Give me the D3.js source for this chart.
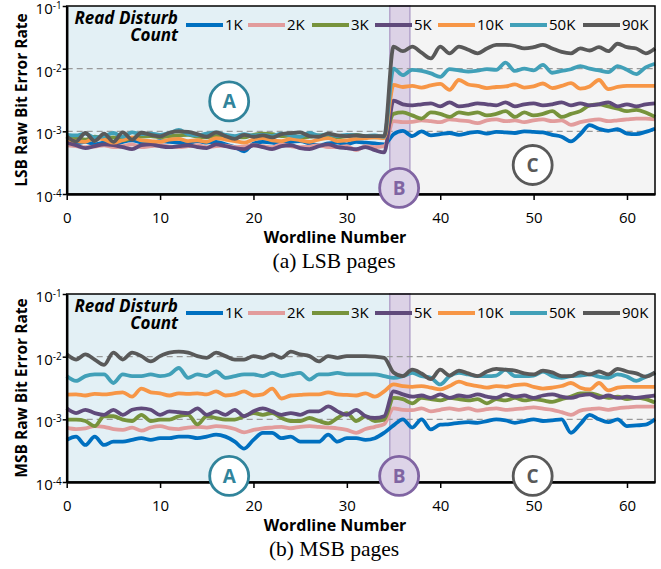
<!DOCTYPE html>
<html>
<head>
<meta charset="utf-8">
<script src="https://cdn.jsdelivr.net/npm/d3@7/dist/d3.min.js"></script>
<style>
  body { margin: 0; background: #fff; }
  text { font-family: "Open Sans", Lato, sans-serif; }
</style>
</head>
<body>
<div class="chart"></div>
<script>
// wordline index on the x axis
const wordlines = d3.range(64);
const counts = ["1K", "2K", "3K", "5K", "10K", "50K", "90K"];
const colors = ["#0070c0", "#e29c9c", "#77933c", "#604a7b", "#f79646", "#41a0b8", "#595959"];
const xTicks = [0, 10, 20, 30, 40, 50, 60];
const yTicks = [1e-4, 1e-3, 1e-2, 1e-1];
const regionB = [34.6, 36.75];

// LSB pages
const lsb1K = [6.8e-4,6.4e-4,6.8e-4,6.2e-4,6.6e-4,6.0e-4,6.8e-4,7.2e-4,6.6e-4,6.4e-4,7.0e-4,6.8e-4,6.6e-4,6.4e-4,7.0e-4,6.6e-4,6.8e-4,6.2e-4,5.6e-4,4.8e-4,6.4e-4,6.8e-4,6.6e-4,6.2e-4,6.8e-4,7.0e-4,6.4e-4,6.0e-4,6.4e-4,6.6e-4,6.2e-4,6.8e-4,6.6e-4,6.4e-4,6.2e-4,
  9.0e-4,1.02e-3,8.4e-4,1.0e-3,8.6e-4,9.0e-4,9.4e-4,8.8e-4,9.4e-4,9.8e-4,9.2e-4,9.8e-4,9.6e-4,9.4e-4,1.0e-3,9.8e-4,9.6e-4,8.8e-4,8.2e-4,6.9e-4,9.0e-4,1.26e-3,1.1e-3,1.02e-3,1.08e-3,9.2e-4,9.0e-4,9.8e-4,1.1e-3];
const lsb2K = [6.0e-4,5.8e-4,5.6e-4,5.7e-4,6.0e-4,5.6e-4,5.8e-4,6.2e-4,5.6e-4,5.8e-4,6.0e-4,5.7e-4,5.6e-4,5.8e-4,6.0e-4,5.6e-4,5.8e-4,5.9e-4,5.6e-4,5.7e-4,6.0e-4,5.8e-4,5.6e-4,6.2e-4,5.8e-4,5.6e-4,5.7e-4,6.0e-4,5.6e-4,5.6e-4,5.8e-4,5.0e-4,5.8e-4,5.6e-4,5.8e-4,
  1.45e-3,1.4e-3,1.42e-3,1.5e-3,1.45e-3,1.4e-3,1.55e-3,1.5e-3,1.45e-3,1.35e-3,1.5e-3,1.55e-3,1.45e-3,1.5e-3,1.4e-3,1.5e-3,1.55e-3,1.45e-3,1.5e-3,1.27e-3,1.4e-3,1.5e-3,1.55e-3,1.45e-3,1.5e-3,1.55e-3,1.6e-3,1.6e-3,1.55e-3];
const lsb3K = [7.8e-4,8.0e-4,7.4e-4,8.2e-4,7.6e-4,8.0e-4,7.2e-4,7.8e-4,8.2e-4,8.4e-4,8.0e-4,8.4e-4,8.6e-4,8.8e-4,8.2e-4,8.0e-4,8.6e-4,8.4e-4,8.2e-4,8.0e-4,8.8e-4,9.2e-4,9.0e-4,8.4e-4,8.6e-4,8.0e-4,8.2e-4,8.6e-4,8.4e-4,8.0e-4,8.4e-4,8.8e-4,8.2e-4,8.0e-4,8.2e-4,
  1.9e-3,2.0e-3,1.8e-3,1.6e-3,2.0e-3,1.9e-3,1.7e-3,2.0e-3,1.9e-3,2.0e-3,1.8e-3,1.9e-3,2.1e-3,1.7e-3,2.0e-3,1.8e-3,1.9e-3,2.1e-3,1.7e-3,1.9e-3,2.1e-3,2.6e-3,2.7e-3,2.5e-3,2.3e-3,2.1e-3,2.2e-3,2.0e-3,1.7e-3];
const lsb5K = [6.6e-4,6.0e-4,5.4e-4,5.8e-4,6.2e-4,6.0e-4,5.6e-4,5.2e-4,6.0e-4,6.2e-4,5.8e-4,5.6e-4,5.8e-4,6.0e-4,5.6e-4,5.4e-4,6.2e-4,5.8e-4,5.4e-4,5.2e-4,6.0e-4,5.6e-4,5.2e-4,5.8e-4,6.0e-4,5.4e-4,5.2e-4,5.8e-4,6.2e-4,5.6e-4,5.4e-4,5.2e-4,5.6e-4,5.0e-4,4.6e-4,
  3.1e-3,2.7e-3,2.6e-3,2.7e-3,2.8e-3,2.5e-3,2.9e-3,2.5e-3,2.6e-3,2.8e-3,2.7e-3,2.6e-3,2.9e-3,2.5e-3,2.7e-3,2.8e-3,2.6e-3,2.7e-3,2.9e-3,2.6e-3,2.8e-3,2.6e-3,2.7e-3,2.9e-3,2.5e-3,2.7e-3,2.5e-3,2.7e-3,2.8e-3];
const lsb10K = [7.6e-4,7.0e-4,6.8e-4,7.8e-4,7.4e-4,6.6e-4,7.2e-4,8.0e-4,7.2e-4,7.0e-4,6.8e-4,7.4e-4,7.6e-4,7.0e-4,7.2e-4,6.8e-4,7.8e-4,7.4e-4,7.0e-4,6.6e-4,7.4e-4,7.8e-4,7.2e-4,7.0e-4,7.6e-4,7.2e-4,6.8e-4,7.4e-4,7.8e-4,7.0e-4,7.2e-4,7.6e-4,7.8e-4,8.0e-4,7.8e-4,
  5.5e-3,5.1e-3,5.3e-3,5.0e-3,5.4e-3,5.7e-3,4.6e-3,6.6e-3,5.6e-3,5.3e-3,4.9e-3,5.1e-3,5.2e-3,5.6e-3,5.0e-3,5.2e-3,5.8e-3,4.9e-3,5.3e-3,5.9e-3,4.8e-3,5.2e-3,6.6e-3,4.7e-3,5.1e-3,5.3e-3,5.3e-3,5.3e-3,5.3e-3];
const lsb50K = [8.8e-4,8.6e-4,9.2e-4,8.0e-4,8.4e-4,9.4e-4,8.2e-4,9.6e-4,9.0e-4,9.2e-4,8.8e-4,9.4e-4,1.05e-3,9.0e-4,8.6e-4,9.2e-4,9.6e-4,8.8e-4,8.4e-4,9.0e-4,8.6e-4,8.8e-4,8.4e-4,9.2e-4,8.6e-4,8.2e-4,9.4e-4,8.6e-4,9.0e-4,8.4e-4,8.8e-4,8.6e-4,8.4e-4,8.6e-4,8.2e-4,
  1.0e-2,7.9e-3,9.6e-3,9.2e-3,8.4e-3,7.4e-3,9.8e-3,9.4e-3,9.0e-3,9.3e-3,9.8e-3,9.6e-3,1.25e-2,9.2e-3,1.0e-2,9.4e-3,1.15e-2,8.6e-3,9.2e-3,9.8e-3,1.1e-2,1.0e-2,9.4e-3,8.8e-3,1.1e-2,9.6e-3,8.2e-3,1.05e-2,1.2e-2];
const lsb90K = [8.3e-4,6.9e-4,9.4e-4,7.0e-4,9.2e-4,6.8e-4,9.6e-4,7.4e-4,9.5e-4,8.8e-4,8.3e-4,9.5e-4,1.0e-3,9.8e-4,9.0e-4,8.2e-4,9.6e-4,8.4e-4,7.6e-4,8.8e-4,8.2e-4,8.6e-4,8.0e-4,9.0e-4,9.4e-4,9.6e-4,8.4e-4,8.2e-4,9.2e-4,8.6e-4,8.4e-4,8.6e-4,8.4e-4,8.4e-4,8.4e-4,
  2.24e-2,1.9e-2,2.24e-2,1.8e-2,1.46e-2,2.24e-2,1.76e-2,2.24e-2,2.0e-2,1.76e-2,2.1e-2,2.4e-2,2.4e-2,2.3e-2,2.1e-2,2.2e-2,2.4e-2,2.1e-2,1.85e-2,1.76e-2,2.1e-2,1.95e-2,2.2e-2,1.9e-2,2.5e-2,2.2e-2,2.1e-2,1.76e-2,2.1e-2];

// MSB pages
const msb1K = [4.7e-4,5.3e-4,3.9e-4,5.3e-4,3.9e-4,4.4e-4,4.4e-4,4.7e-4,5.0e-4,4.7e-4,5.0e-4,5.0e-4,5.3e-4,5.3e-4,5.0e-4,5.3e-4,5.7e-4,5.3e-4,4.4e-4,3.4e-4,4.7e-4,6.1e-4,6.1e-4,5.0e-4,5.3e-4,4.4e-4,4.4e-4,4.4e-4,5.7e-4,4.4e-4,5.0e-4,5.0e-4,4.7e-4,5.0e-4,6.1e-4,
  8.0e-4,1.0e-3,7.4e-4,1.0e-3,6.9e-4,8.2e-4,8.4e-4,8.8e-4,9.0e-4,8.8e-4,9.4e-4,1.0e-3,9.6e-4,8.8e-4,9.4e-4,1.0e-3,9.4e-4,9.6e-4,1.0e-3,6.1e-4,8.4e-4,1.18e-3,1.0e-3,9.0e-4,1.0e-3,7.8e-4,8.0e-4,8.2e-4,1.0e-3];
const msb2K = [7.4e-4,7.0e-4,7.2e-4,7.8e-4,7.6e-4,7.0e-4,6.8e-4,7.4e-4,6.6e-4,7.4e-4,7.8e-4,7.2e-4,7.0e-4,7.4e-4,7.6e-4,7.4e-4,7.8e-4,7.6e-4,7.0e-4,6.2e-4,6.8e-4,7.2e-4,7.4e-4,7.6e-4,7.2e-4,7.6e-4,7.8e-4,7.6e-4,7.4e-4,7.2e-4,6.8e-4,6.1e-4,7.0e-4,7.6e-4,8.4e-4,
  1.5e-3,1.42e-3,1.4e-3,1.5e-3,1.34e-3,1.42e-3,1.5e-3,1.42e-3,1.5e-3,1.38e-3,1.45e-3,1.5e-3,1.42e-3,1.45e-3,1.5e-3,1.55e-3,1.48e-3,1.42e-3,1.3e-3,1.18e-3,1.38e-3,1.45e-3,1.5e-3,1.42e-3,1.5e-3,1.55e-3,1.6e-3,1.6e-3,1.6e-3];
const msb3K = [9.9e-4,9.9e-4,9.4e-4,7.8e-4,1.12e-3,1.12e-3,9.9e-4,9.4e-4,1.18e-3,9.4e-4,9.9e-4,9.9e-4,1.12e-3,1.18e-3,8.3e-4,1.12e-3,1.05e-3,9.9e-4,9.9e-4,1.12e-3,1.26e-3,1.18e-3,1.26e-3,1.05e-3,9.4e-4,9.4e-4,1.05e-3,9.4e-4,8.6e-4,1.05e-3,1.26e-3,9.4e-4,1.12e-3,9.4e-4,9.9e-4,
  2.2e-3,2.1e-3,1.8e-3,2.2e-3,2.1e-3,2.0e-3,2.2e-3,2.1e-3,2.0e-3,2.1e-3,1.8e-3,2.1e-3,2.0e-3,2.2e-3,2.0e-3,2.1e-3,2.0e-3,1.9e-3,2.1e-3,2.3e-3,2.6e-3,2.6e-3,2.4e-3,2.2e-3,2.3e-3,2.1e-3,2.2e-3,2.1e-3,1.85e-3];
const msb5K = [1.5e-3,1.26e-3,1.42e-3,1.26e-3,1.18e-3,1.42e-3,1.18e-3,1.42e-3,1.5e-3,1.42e-3,1.18e-3,1.34e-3,1.3e-3,1.26e-3,1.5e-3,1.18e-3,1.34e-3,1.18e-3,1.42e-3,1.12e-3,1.34e-3,1.5e-3,1.34e-3,1.18e-3,1.26e-3,1.18e-3,1.34e-3,1.34e-3,1.61e-3,1.34e-3,1.18e-3,1.42e-3,1.12e-3,1.05e-3,1.12e-3,
  2.8e-3,2.5e-3,2.3e-3,2.4e-3,2.2e-3,2.5e-3,2.2e-3,2.4e-3,2.3e-3,2.5e-3,2.3e-3,2.2e-3,2.5e-3,2.3e-3,2.4e-3,2.2e-3,2.4e-3,2.5e-3,2.3e-3,2.2e-3,2.4e-3,2.5e-3,2.2e-3,2.4e-3,2.2e-3,2.3e-3,2.2e-3,2.3e-3,2.4e-3];
const msb10K = [2.48e-3,2.5e-3,2.4e-3,2.55e-3,2.5e-3,2.6e-3,2.7e-3,2.3e-3,3.1e-3,2.7e-3,2.6e-3,2.4e-3,2.6e-3,2.55e-3,2.6e-3,2.5e-3,2.8e-3,2.4e-3,2.5e-3,2.8e-3,2.4e-3,2.5e-3,3.1e-3,2.15e-3,2.4e-3,2.45e-3,2.5e-3,2.5e-3,2.7e-3,2.5e-3,2.45e-3,2.4e-3,2.6e-3,2.3e-3,2.8e-3,
  3.6e-3,3.4e-3,3.3e-3,3.4e-3,3.2e-3,3.0e-3,3.4e-3,4.0e-3,3.6e-3,3.4e-3,3.2e-3,3.4e-3,3.3e-3,3.5e-3,3.6e-3,3.3e-3,3.1e-3,3.2e-3,3.4e-3,3.8e-3,3.2e-3,3.0e-3,3.8e-3,2.9e-3,3.2e-3,3.3e-3,3.3e-3,3.3e-3,3.3e-3];
const msb50K = [4.9e-3,4.1e-3,4.9e-3,5.2e-3,5.2e-3,3.8e-3,5.2e-3,4.9e-3,4.9e-3,5.2e-3,4.9e-3,5.2e-3,6.6e-3,4.6e-3,5.2e-3,4.9e-3,5.8e-3,4.6e-3,4.9e-3,5.2e-3,5.2e-3,4.9e-3,5.5e-3,4.9e-3,5.2e-3,5.5e-3,4.3e-3,5.2e-3,5.2e-3,5.5e-3,5.2e-3,5.2e-3,5.2e-3,5.2e-3,4.9e-3,
  4.6e-3,4.9e-3,5.5e-3,4.9e-3,4.6e-3,3.6e-3,4.9e-3,5.5e-3,5.2e-3,4.9e-3,4.9e-3,5.0e-3,6.2e-3,4.9e-3,4.9e-3,5.0e-3,5.8e-3,4.9e-3,4.6e-3,4.9e-3,5.0e-3,5.2e-3,4.8e-3,4.6e-3,5.2e-3,4.8e-3,4.1e-3,4.8e-3,5.5e-3];
const msb90K = [1.09e-2,9.0e-3,1.09e-2,9.0e-3,7.4e-3,1.16e-2,9.0e-3,1.16e-2,1.02e-2,8.4e-3,1.02e-2,1.16e-2,1.2e-2,1.16e-2,1.02e-2,9.6e-3,1.16e-2,1.02e-2,9.0e-3,9.0e-3,1.02e-2,9.6e-3,1.09e-2,9.6e-3,1.2e-2,1.09e-2,1.02e-2,8.4e-3,1.02e-2,9.6e-3,1.02e-2,1.02e-2,1.02e-2,1.0e-2,9.6e-3,
  5.6e-3,4.9e-3,6.2e-3,5.4e-3,4.4e-3,6.2e-3,5.0e-3,6.0e-3,5.4e-3,4.9e-3,5.8e-3,6.4e-3,6.2e-3,6.0e-3,5.4e-3,5.2e-3,6.0e-3,5.6e-3,4.9e-3,4.9e-3,5.6e-3,5.2e-3,5.8e-3,5.2e-3,6.4e-3,5.8e-3,5.4e-3,4.8e-3,5.6e-3];

const lsbSeries = [lsb1K, lsb2K, lsb3K, lsb5K, lsb10K, lsb50K, lsb90K];
const msbSeries = [msb1K, msb2K, msb3K, msb5K, msb10K, msb50K, msb90K];

const width = 661, height = 569;
const plotH = 188;
const svg = d3.select(".chart").append("svg")
    .attr("width", width)
    .attr("height", height);

const x = d3.scaleLinear().domain([0, 63]).range([66.7, 655]);

// legend line starts
const legendX = [186, 248, 312, 375, 438, 510, 583];

function drawPanel(top, series, yTitle, caption, marks) {
    const y = d3.scaleLog().domain([1e-4, 1e-1]).range([top + plotH, top]);
    const g = svg.append("g");

    // shaded regions A, B, C
    g.append("rect")
        .attr("x", x(0)).attr("y", top)
        .attr("width", x(regionB[0]) - x(0)).attr("height", plotH)
        .attr("fill", "#e3f0f5");
    g.append("rect")
        .attr("x", x(regionB[1])).attr("y", top)
        .attr("width", x(63) - x(regionB[1])).attr("height", plotH)
        .attr("fill", "#f4f4f4");
    g.append("rect")
        .attr("x", x(regionB[0])).attr("y", top)
        .attr("width", x(regionB[1]) - x(regionB[0])).attr("height", plotH)
        .attr("fill", "#dcd2e6")
        .attr("stroke", "#b4a4cb")
        .attr("stroke-width", 1.5);

    // dashed grid
    g.selectAll(".grid")
        .data([1e-2, 1e-3])
        .enter()
        .append("line")
        .attr("x1", x(0)).attr("x2", x(63))
        .attr("y1", d => y(d)).attr("y2", d => y(d))
        .attr("stroke", "#9a9a9a")
        .attr("stroke-width", 1.3)
        .attr("stroke-dasharray", "6,4");

    const line = d3.line()
        .x((d, i) => x(wordlines[i]))
        .y(d => y(d))
        .curve(d3.curveMonotoneX);

    g.selectAll(".series")
        .data(series)
        .enter()
        .append("path")
        .attr("d", line)
        .attr("fill", "none")
        .attr("stroke", (d, i) => colors[i])
        .attr("stroke-width", 3.8)
        .attr("stroke-linejoin", "round");

    // frame
    g.append("rect")
        .attr("x", x(0)).attr("y", top)
        .attr("width", x(63) - x(0)).attr("height", plotH)
        .attr("fill", "none")
        .attr("stroke", "#000")
        .attr("stroke-width", 1.5);

    const xAxis = d3.axisBottom(x).tickValues(xTicks).tickSize(6).tickSizeOuter(0).tickPadding(12);
    const gx = g.append("g")
        .attr("transform", `translate(0, ${top + plotH})`)
        .call(xAxis)
        .attr("font-size", 15)
        .attr("font-family", "'Open Sans', sans-serif");
    gx.select(".domain").attr("stroke-width", 2.5);
    gx.selectAll(".tick line").attr("stroke-width", 1.5);
    gx.selectAll(".tick text").attr("fill", "#000");

    const yAxis = d3.axisLeft(y).tickValues(yTicks).tickSize(4).tickSizeOuter(0).tickPadding(1)
        .tickFormat(() => "10");
    const gy = g.append("g")
        .attr("transform", `translate(${x(0)}, 0)`)
        .call(yAxis)
        .attr("font-size", 15)
        .attr("font-family", "'Open Sans', sans-serif");
    gy.select(".domain").attr("stroke-width", 2.5);
    gy.selectAll(".tick line").attr("stroke-width", 1.5);
    gy.selectAll(".tick text")
        .attr("fill", "#000")
        .attr("dy", "0.5em")
        .append("tspan")
        .attr("dy", "-0.5em")
        .attr("font-size", 10)
        .text(d => Math.round(Math.log10(d)));

    // axis titles
    g.append("text")
        .attr("x", 335).attr("y", top + 237)
        .attr("text-anchor", "middle")
        .attr("font-weight", "bold")
        .attr("font-size", 16)
        .text("Wordline Number");
    g.append("text")
        .attr("transform", `translate(27, ${top + 94}) rotate(-90)`)
        .attr("text-anchor", "middle")
        .attr("font-weight", "bold")
        .attr("font-size", 15.5)
        .text(yTitle);
    g.append("text")
        .attr("x", 334).attr("y", top + 262)
        .attr("text-anchor", "middle")
        .attr("font-size", 21.5)
        .style("font-family", "'Liberation Serif', serif")
        .text(caption);

    // legend title on two lines
    const lt = g.append("text")
        .attr("text-anchor", "end")
        .attr("font-weight", "bold").attr("font-style", "italic")
        .attr("font-size", 17);
    lt.append("tspan").attr("x", 178).attr("y", top + 18).text("Read Disturb");
    lt.append("tspan").attr("x", 178).attr("y", top + 34.5).text("Count");

    const items = g.selectAll(".legend")
        .data(counts)
        .enter()
        .append("g")
        .attr("transform", (d, i) => `translate(${legendX[i]}, ${top + 19})`);
    items.append("line")
        .attr("x1", 0).attr("x2", 37)
        .attr("stroke", (d, i) => colors[i])
        .attr("stroke-width", 4);
    items.append("text")
        .attr("x", 39).attr("dy", "0.36em")
        .attr("font-size", 15)
        .text(d => d);

    // A / B / C markers
    const mk = g.selectAll(".mark")
        .data(marks)
        .enter()
        .append("g")
        .attr("transform", d => `translate(${x(d.x)}, ${y(d.y)})`);
    mk.append("circle")
        .attr("r", 19.5)
        .attr("fill", d => d.fill)
        .attr("stroke", d => d.color)
        .attr("stroke-width", 2.8);
    mk.append("text")
        .attr("text-anchor", "middle")
        .attr("dy", "0.36em")
        .attr("font-weight", "bold")
        .attr("font-size", 19)
        .attr("fill", d => d.color)
        .text(d => d.label);
}

drawPanel(6, lsbSeries, "LSB Raw Bit Error Rate", "(a) LSB pages", [
    {label: "A", x: 17.4, y: 3.0e-3, color: "#31849b", fill: "#fff"},
    {label: "B", x: 35.6, y: 1.25e-4, color: "#8064a2", fill: "#ddd4e8"},
    {label: "C", x: 49.9, y: 2.9e-4, color: "#595959", fill: "#fff"}
]);
drawPanel(294, msbSeries, "MSB Raw Bit Error Rate", "(b) MSB pages", [
    {label: "A", x: 17.4, y: 1.25e-4, color: "#31849b", fill: "#fff"},
    {label: "B", x: 35.6, y: 1.25e-4, color: "#8064a2", fill: "#ddd4e8"},
    {label: "C", x: 49.9, y: 1.25e-4, color: "#595959", fill: "#fff"}
]);
</script>
</body>
</html>
